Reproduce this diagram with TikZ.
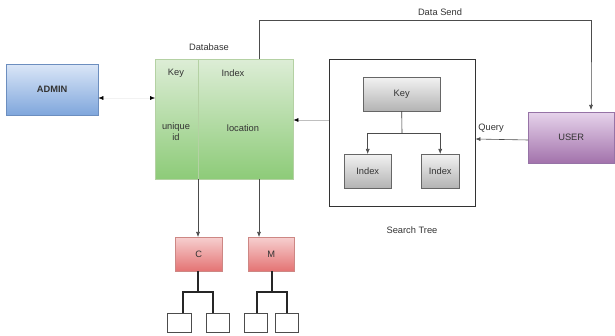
\documentclass[tikz,border=0pt]{standalone}
\usepackage{fontspec}
\setmainfont{Liberation Sans}
\usetikzlibrary{arrows.meta,positioning}
\definecolor{blueT}{HTML}{DAE6F7}
\definecolor{blueB}{HTML}{7FA6DC}
\definecolor{blueD}{HTML}{6C8EBF}
\definecolor{greenT}{HTML}{DDEDD6}
\definecolor{greenB}{HTML}{8DCB78}
\definecolor{greenD}{HTML}{82B366}
\definecolor{grayT}{HTML}{F2F2F2}
\definecolor{grayB}{HTML}{B3B3B3}
\definecolor{grayD}{HTML}{666666}
\definecolor{redT}{HTML}{F6CFCF}
\definecolor{redB}{HTML}{E47373}
\definecolor{redD}{HTML}{B85450}
\definecolor{purT}{HTML}{E6D3EB}
\definecolor{purB}{HTML}{A272AB}
\definecolor{purD}{HTML}{9673A6}
\definecolor{txt}{HTML}{333333}
\tikzset{
  box/.style={draw, rectangle, inner sep=0pt, anchor=north west, font=\fontsize{9.3}{11}\selectfont, text=txt},
  bluebox/.style={box, draw=blueD, top color=blueT, bottom color=blueB},
  greenbox/.style={box, draw=greenD!60, top color=greenT, bottom color=greenB},
  graybox/.style={box, draw=grayD, top color=grayT, bottom color=grayB},
  redbox/.style={box, draw=redD!70, top color=redT, bottom color=redB},
  purbox/.style={box, draw=purD, top color=purT, bottom color=purB},
  leaf/.style={box, draw=black!70, fill=white},
  lbl/.style={font=\fontsize{9.3}{11}\selectfont, text=txt, inner sep=0pt},
  conn/.style={draw=black!70, line width=0.6pt, -{Latex[length=5pt,width=4pt]}},
  tree/.style={draw=black!85, line width=1.3pt},
}
\begin{document}
\begin{tikzpicture}[x=1pt,y=-1pt]
\useasboundingbox (0,0) rectangle (615,336);
% ADMIN
\node[bluebox, minimum width=92pt, minimum height=51pt] (admin) at (6,64) {\textbf{ADMIN}};
% Database
\node[greenbox, minimum width=138pt, minimum height=120pt] (db) at (155,59) {};
\coordinate (div1) at (198,59);
\coordinate (div2) at (198,179);
\draw[greenD!60] (div1) -- (div2);
\node[lbl] (dblabel) at (209,47) {Database};
\node[lbl] (dkey) at (176,73) {Key};
\node[lbl] (dindex) at (233,73) {Index};
\node[lbl, align=center] (duid) at (176,132) {unique\\id};
\node[lbl] (dloc) at (243,128) {location};
% admin <-> db
\draw[draw=black!5, {Latex[length=5pt,width=4pt,black]}-{Latex[length=5pt,width=4pt,black]}] (admin.east |- 0,98) -- (db.west |- 0,98);
% Search tree
\node[box, draw=black!80, minimum width=146pt, minimum height=147pt] (st) at (329,59) {};
\node[lbl] (stlabel) at (412,230) {Search Tree};
\node[graybox, minimum width=77pt, minimum height=34pt] (key) at (363,77) {Key};
\node[graybox, minimum width=47pt, minimum height=34pt] (ix1) at (344,154) {Index};
\node[graybox, minimum width=38pt, minimum height=34pt] (ix2) at (421,154) {Index};
\coordinate (kj) at (402,133);
\draw[black!80, line width=0.6pt] (key.south) -- (kj);
\draw[conn] (kj) -| (ix1.north);
\draw[conn] (kj) -| (ix2.north);
% search tree -> db
\draw[draw=black!25, line width=0.6pt, -{Latex[length=5pt,width=4pt,black]}] (st.west |- 0,120) -- (db.east |- 0,120);
% USER
\node[purbox, minimum width=86pt, minimum height=51pt] (user) at (528,112) {USER};
\draw[conn] (user.west |- 0,140) -- (st.east |- 0,139);
\node[lbl] (query) at (491,128) {Query};
% Data send
\coordinate (ds1) at (259,20);
\coordinate (ds2) at (591,20);
\draw[conn] (db.north -| 259,0) -- (ds1) -- (ds2) -- (591,103) -- (591,110);
\node[lbl] (dslabel) at (440,12) {Data Send};
% C and M
\node[redbox, minimum width=47pt, minimum height=34pt] (c) at (175,237) {C};
\node[redbox, minimum width=46pt, minimum height=34pt] (m) at (248,237) {M};
\draw[conn] (div2) -- (div2 |- c.north);
\draw[conn] (db.south -| 259,0) -- (259,237);
% leaves
\node[leaf, minimum width=24pt, minimum height=19pt] (l1) at (167,313) {};
\node[leaf, minimum width=23pt, minimum height=19pt] (l2) at (206,313) {};
\node[leaf, minimum width=23pt, minimum height=19pt] (l3) at (244,313) {};
\node[leaf, minimum width=23pt, minimum height=19pt] (l4) at (275,313) {};
\coordinate (cj) at (198,292);
\coordinate (mj) at (272,292);
\draw[tree] (c.south -| cj) -- (cj);
\draw[tree] (183,313) |- (cj) -| (213,313);
\draw[tree] (m.south -| mj) -- (mj);
\draw[tree] (257,313) |- (mj) -| (287,313);
\end{tikzpicture}
\end{document}
